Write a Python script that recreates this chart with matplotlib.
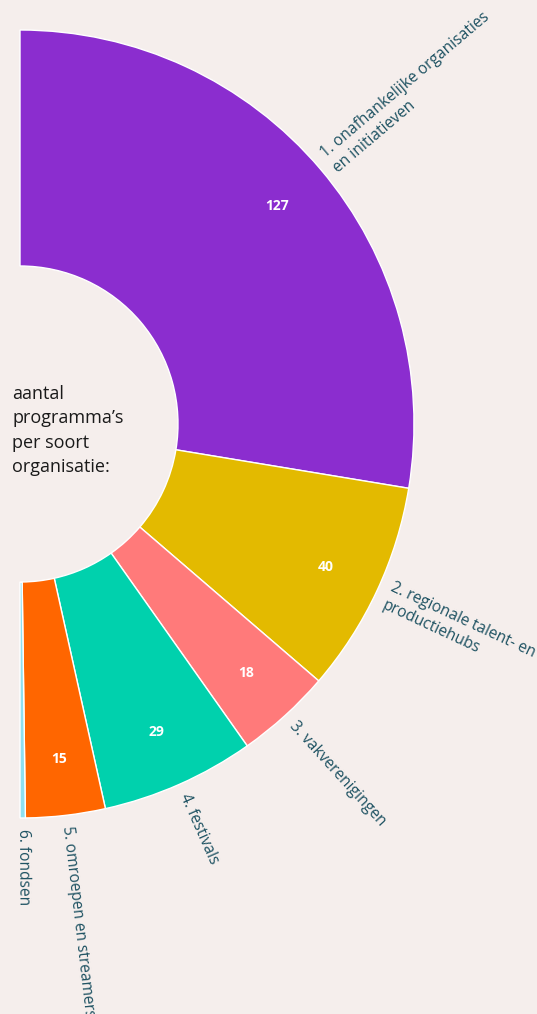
import matplotlib
matplotlib.use("Agg")
import matplotlib.pyplot as plt
import numpy as np

categories = ["1. onafhankelijke organisaties\nen initiatieven",
              "2. regionale talent- en\nproductiehubs",
              "3. vakverenigingen",
              "4. festivals",
              "5. omroepen en streamers",
              "6. fondsen"]
values = [127, 40, 18, 29, 15, 1]
value_labels = ["127", "40", "18", "29", "15", ""]
colors = ["#8B2DCF", "#E3BA00", "#FF7A7A", "#00D1AD", "#FF6600", "#8EE0F0"]

BG = "#F5EEEC"
TXT = "#1E5262"
W, H = 537, 1014
cx, cy = 20, H - 424
R, r_in = 394, 158

plt.rcParams['font.family'] = ['Open Sans', 'DejaVu Sans']
fig = plt.figure(figsize=(W / 100, H / 100), dpi=100, facecolor=BG)
ax = fig.add_axes([0, 0, 1, 1])
ax.set_facecolor(BG)

total = sum(values)
ax.pie(values + [total], colors=colors + ["none"], startangle=90, counterclock=False,
       center=(cx, cy), radius=R,
       wedgeprops=dict(width=R - r_in, edgecolor="white", linewidth=1.0))
ax.patches[-1].set_edgecolor("none")

ax.set_xlim(0, W)
ax.set_ylim(0, H)
ax.set_aspect("equal")
ax.axis("off")

cum = 0
for lab, v, vl in zip(categories, values, value_labels):
    mid = 90 - (cum + v / 2) / total * 180
    cum += v
    a = np.deg2rad(mid)
    rl = R + 11
    ax.text(cx + rl * np.cos(a), cy + rl * np.sin(a), lab, rotation=mid,
            rotation_mode="anchor", ha="left", va="center", multialignment="left",
            fontsize=11.2, color=TXT, linespacing=1.3)
    if vl:
        rv = 337
        ax.text(cx + rv * np.cos(a), cy + rv * np.sin(a), vl, ha="center", va="center",
                fontsize=10, color="white", fontweight="bold")

ax.text(12, H - 385, "aantal\nprogramma’s\nper soort\norganisatie:", ha="left", va="top",
        fontsize=13, color="#1a1a1a", linespacing=1.45)

fig.savefig("out.png", dpi=100, facecolor=BG)
